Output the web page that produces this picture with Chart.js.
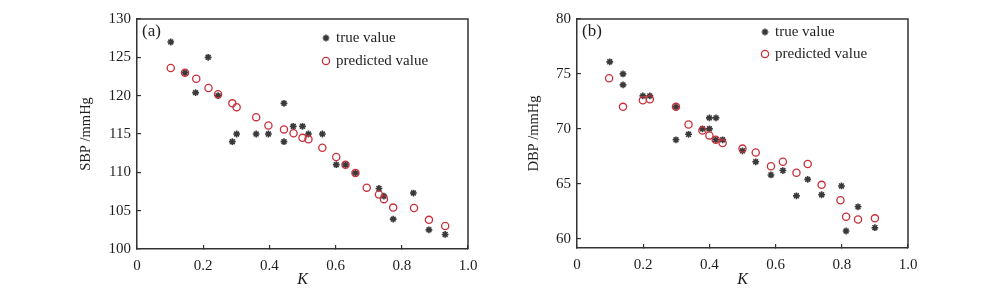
<!DOCTYPE html>
<html><head><meta charset="utf-8">
<script src="https://cdn.jsdelivr.net/npm/chart.js@4/dist/chart.umd.min.js"></script>
<style>
html,body{margin:0;padding:0;background:#fff;}
#wrap{position:relative;width:1000px;height:293px;overflow:hidden;}
canvas{position:absolute;top:0;}
#a{left:0;}
#b{left:500px;}
</style></head><body>
<div id="wrap">
<canvas id="a" width="500" height="293"></canvas>
<canvas id="b" width="500" height="293"></canvas>
</div>
<script>
// ---- data ----
const xTickLabels = ['0', '0.2', '0.4', '0.6', '0.8', '1.0'];
const seriesNames = ['true value', 'predicted value'];

// (a) SBP
const kTrueA = [0.102, 0.145, 0.177, 0.215, 0.245, 0.288, 0.301, 0.36, 0.397, 0.444, 0.444, 0.472, 0.50, 0.518, 0.56, 0.602, 0.63, 0.66, 0.731, 0.746, 0.774, 0.835, 0.882, 0.931];
const sbpTrue = [127.0, 123.0, 120.4, 125.0, 120.0, 114.0, 115.0, 115.0, 115.0, 119.0, 114.0, 116.0, 116.0, 115.0, 115.0, 111.0, 111.0, 109.9, 107.9, 106.9, 103.9, 107.3, 102.5, 101.9];
const kPredA = [0.102, 0.145, 0.179, 0.216, 0.245, 0.288, 0.301, 0.36, 0.397, 0.444, 0.473, 0.50, 0.518, 0.56, 0.602, 0.63, 0.66, 0.694, 0.731, 0.746, 0.774, 0.837, 0.882, 0.931];
const sbpPred = [123.6, 123.0, 122.2, 121.0, 120.2, 119.0, 118.5, 117.2, 116.1, 115.6, 115.1, 114.5, 114.3, 113.2, 112.0, 111.0, 109.9, 108.0, 107.1, 106.5, 105.4, 105.35, 103.8, 103.0];

// (b) DBP
const kTrueB = [0.099, 0.139, 0.139, 0.199, 0.22, 0.299, 0.299, 0.337, 0.379, 0.40, 0.42, 0.40, 0.419, 0.44, 0.50, 0.54, 0.586, 0.622, 0.663, 0.697, 0.739, 0.799, 0.813, 0.849, 0.90];
const dbpTrue = [76.1, 75.0, 74.0, 73.0, 73.0, 72.0, 69.0, 69.5, 70.0, 71.0, 71.0, 70.0, 69.0, 69.0, 68.0, 67.0, 65.8, 66.2, 63.9, 65.4, 64.0, 64.8, 60.7, 62.9, 61.0];
const kPredB = [0.097, 0.139, 0.199, 0.22, 0.299, 0.337, 0.379, 0.40, 0.419, 0.44, 0.50, 0.54, 0.586, 0.622, 0.663, 0.697, 0.739, 0.796, 0.813, 0.849, 0.90];
const dbpPred = [74.6, 72.0, 72.6, 72.7, 72.0, 70.4, 69.85, 69.4, 69.0, 68.7, 68.2, 67.85, 66.6, 67.0, 66.0, 66.8, 64.9, 63.5, 62.0, 61.75, 61.85];

// ---- rendering ----
const FONT = 'Liberation Serif';
const INK = '#1e1e1e';
const AXIS = '#333';
const TRUE_COLOR = '#3a3a3a';
const PRED_COLOR = '#c8303a';

function pts(xs, ys) { return xs.map((x, i) => ({x: x, y: ys[i]})); }

const decorPlugin = {
  id: 'decor',
  afterDraw(chart, args, o) {
    const ctx = chart.ctx, ca = chart.chartArea;
    ctx.save();
    // top/right frame
    ctx.strokeStyle = AXIS; ctx.lineWidth = 1.5;
    ctx.beginPath();
    ctx.moveTo(ca.left, ca.top); ctx.lineTo(ca.right, ca.top); ctx.lineTo(ca.right, ca.bottom);
    ctx.stroke();
    // panel label
    ctx.fillStyle = INK;
    ctx.font = '17px "' + FONT + '"';
    ctx.textBaseline = 'middle'; ctx.textAlign = 'left';
    ctx.fillText(o.panel, ca.left + 5, ca.top + 13);
    // legend
    ctx.font = '15px "' + FONT + '"';
    chart.data.datasets.forEach((ds, i) => {
      const y = o.legY[i];
      ctx.strokeStyle = ds.borderColor; ctx.fillStyle = ds.backgroundColor;
      ctx.lineWidth = ds.borderWidth;
      Chart.helpers.drawPoint(ctx, {pointStyle: ds.pointStyle, radius: ds.radius, rotation: 0, borderWidth: ds.borderWidth}, o.legX, y);
      ctx.fillStyle = INK;
      ctx.fillText(ds.label, o.legX + 10, y);
    });
    ctx.restore();
  }
};

function makeChart(id, c) {
  return new Chart(document.getElementById(id), {
    type: 'scatter',
    data: {datasets: [
      {label: seriesNames[0], data: pts(c.kT, c.vT), pointStyle: 'star', radius: 3.4, borderColor: TRUE_COLOR, backgroundColor: TRUE_COLOR, borderWidth: 1.6, order: 2},
      {label: seriesNames[1], data: pts(c.kP, c.vP), pointStyle: 'circle', radius: 3.6, borderColor: PRED_COLOR, backgroundColor: 'rgba(0,0,0,0)', borderWidth: 1.3, order: 1}
    ]},
    options: {
      responsive: false, animation: false, events: [],
      layout: {padding: {left: 0, right: c.padRight, top: 13, bottom: 0}},
      plugins: {legend: {display: false}, tooltip: {enabled: false},
        decor: {panel: c.panel, legX: c.legX, legY: c.legY}},
      scales: {
        x: {
          type: 'linear', min: 0, max: 1,
          afterFit: s => { s.height = c.xh; },
          ticks: {stepSize: 0.2, padding: 12, color: INK, font: {family: FONT, size: 15}, maxRotation: 0, autoSkip: false,
            callback: (v, i) => xTickLabels[i]},
          grid: {drawOnChartArea: false, drawTicks: true, tickLength: -4, color: AXIS, lineWidth: 1.2},
          border: {display: true, color: AXIS, width: 1.5},
          title: {display: true, text: 'K', color: INK, font: {family: FONT, size: 16, style: 'italic'}, padding: {top: 0, bottom: 4}}
        },
        y: {
          type: 'linear', min: c.yMin, max: c.yMax,
          afterFit: s => { s.width = c.yw; },
          ticks: {stepSize: 5, includeBounds: false, padding: 10, color: INK, font: {family: FONT, size: 15},
            callback: v => String(v)},
          grid: {drawOnChartArea: false, drawTicks: true, tickLength: -4, color: AXIS, lineWidth: 1.2},
          border: {display: true, color: AXIS, width: 1.5},
          title: {display: true, text: c.yTitle, color: INK, font: {family: FONT, size: 14.5}, padding: {top: c.yTitlePad, bottom: 0}}
        }
      }
    },
    plugins: [decorPlugin]
  });
}

makeChart('a', {kT: kTrueA, vT: sbpTrue, kP: kPredA, vP: sbpPred, yMin: 100, yMax: 130,
  yTitle: 'SBP /mmHg', yTitlePad: 77, yw: 137, xh: 44, padRight: 32,
  panel: '(a)', legX: 326, legY: [38, 61]});
makeChart('b', {kT: kTrueB, vT: dbpTrue, kP: kPredB, vP: dbpPred, yMin: 59.15, yMax: 80,
  yTitle: 'DBP /mmHg', yTitlePad: 25, yw: 77, xh: 45, padRight: 92,
  panel: '(b)', legX: 265, legY: [32, 54]});
</script>
</body></html>
